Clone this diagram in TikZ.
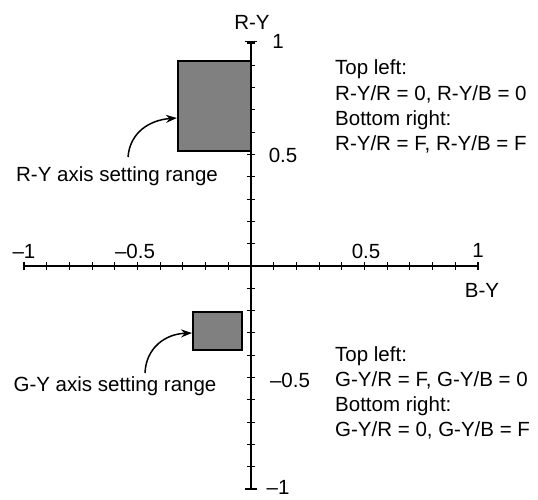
\documentclass[tikz,border=0pt]{standalone}
\usepackage{fontspec}
\setmainfont{Liberation Sans}
\usetikzlibrary{arrows.meta,calc}
\begin{document}
\begin{tikzpicture}[x=1pt,y=-1pt,
  font=\fontsize{20.5}{25}\selectfont,
  axisline/.style={line width=1.8pt},
  tickline/.style={line width=1.1pt},
  rangebox/.style={draw=black, line width=2.6pt, fill=black!50, inner sep=0pt, outer sep=0pt},
  callout/.style={line width=1.5pt, -{Stealth[length=11pt,width=8pt]}},
  lbl/.style={anchor=base, inner sep=0pt},
  txt/.style={anchor=base west, inner sep=0pt}]
\useasboundingbox (0,0) rectangle (538,499);
% axes
\coordinate (xl) at (24,266);
\coordinate (xr) at (478,266);
\coordinate (yt) at (251,41.5);
\coordinate (yb) at (251,489);
\draw[axisline] (xl) -- (xr);
\draw[axisline] (yt) -- (yb);
\foreach \i in {-10,...,10}{
  \draw[tickline] ({251+\i*22.7},262) -- ({251+\i*22.7},270);
  \draw[tickline] (247,{266-\i*22.3}) -- (255,{266-\i*22.3});
}
\draw[axisline] (245,41.5) -- (257,41.5);
\draw[axisline] (245,489) -- (257,489);
% axis labels
\node[lbl] (lry) at (252,29) {R-Y};
\node[lbl] (lv1) at (278,48) {1};
\node[lbl] (lv05) at (283,162) {0.5};
\node[lbl] (lvm05) at (290,387) {--0.5};
\node[lbl] (lvm1) at (278,494) {--1};
\node[lbl] (lhm1) at (24,258) {--1};
\node[lbl] (lhm05) at (135,258) {--0.5};
\node[lbl] (lh05) at (366,258) {0.5};
\node[lbl] (lh1) at (478,257) {1};
\node[lbl] (lby) at (482,297) {B-Y};
% range boxes
\node[rangebox, minimum width=73pt, minimum height=90pt] (rR) at (214.4,106) {};
\node[rangebox, minimum width=49pt, minimum height=38pt] (rG) at (217.5,331) {};
% callout labels
\node[anchor=center, inner sep=0pt] (labR) at (117,176) {R-Y axis setting range};
\node[anchor=center, inner sep=0pt] (labG) at (115,386) {G-Y axis setting range};
\coordinate (sR) at (128,157);
\coordinate (sG) at (145,373);
\draw[callout] (sR) .. controls (130,132) and (150,120) .. ($(rR.west)+(-1,12)$);
\draw[callout] (sG) .. controls (146,348) and (165,334) .. ($(rG.west)+(-1,2)$);
% notes
\node[txt] (n1) at (335,74.5) {Top left:};
\node[txt] (n2) at (335,100) {R-Y/R = 0, R-Y/B = 0};
\node[txt] (n3) at (335,125) {Bottom right:};
\node[txt] (n4) at (335,150) {R-Y/R = F, R-Y/B = F};
\node[txt] (m1) at (335,361) {Top left:};
\node[txt] (m2) at (335,386) {G-Y/R = F, G-Y/B = 0};
\node[txt] (m3) at (335,411) {Bottom right:};
\node[txt] (m4) at (335,436) {G-Y/R = 0, G-Y/B = F};
\end{tikzpicture}
\end{document}
